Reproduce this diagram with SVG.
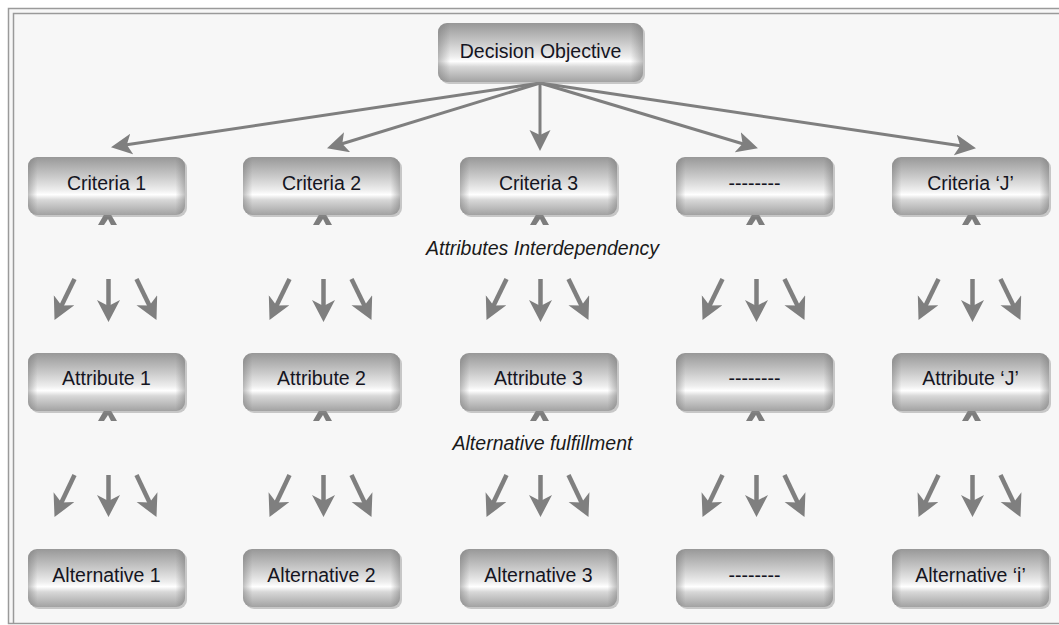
<svg xmlns="http://www.w3.org/2000/svg" width="1059" height="625" viewBox="0 0 1059 625">
<style>
  .lbl { font-family: "Liberation Sans", Arial, sans-serif; font-size: 19.5px; fill: #15151f; text-anchor: middle; }
  .ital { font-family: "Liberation Sans", Arial, sans-serif; font-size: 19.5px; font-style: italic; fill: #1a1a1a; text-anchor: middle; }
  .shadow { fill: #8c8c8c; opacity: 0.45; }
  .face { fill: url(#gv); }
  .edge { fill: url(#gh); }
  .conn { stroke: #7f7f7f; stroke-width: 3; fill: none; marker-end: url(#ahBig); }
  .sm { stroke: #7f7f7f; stroke-width: 4.5; fill: none; marker-end: url(#ahSm); }
  .tick { fill: #7d7d7d; }
  .frame { fill: none; stroke: #9a9a9a; stroke-width: 1.5; }
</style>
<defs>
  <linearGradient id="gv" x1="0" y1="0" x2="0" y2="1">
    <stop offset="0" stop-color="#989898"/>
    <stop offset="0.3" stop-color="#c4c4c4"/>
    <stop offset="0.56" stop-color="#ececec"/>
    <stop offset="0.65" stop-color="#ffffff"/>
    <stop offset="0.74" stop-color="#d8d8d8"/>
    <stop offset="1" stop-color="#a2a2a2"/>
  </linearGradient>
  <linearGradient id="gh" x1="0" y1="0" x2="1" y2="0">
    <stop offset="0" stop-color="#707070" stop-opacity="0.45"/>
    <stop offset="0.06" stop-color="#707070" stop-opacity="0"/>
    <stop offset="0.94" stop-color="#707070" stop-opacity="0"/>
    <stop offset="1" stop-color="#707070" stop-opacity="0.45"/>
  </linearGradient>
  <marker id="ahBig" markerUnits="userSpaceOnUse" markerWidth="22" markerHeight="22" refX="12" refY="10.5" orient="auto">
    <path d="M0,0 L21,10.5 L0,21 L5,10.5 z" fill="#7f7f7f"/>
  </marker>
  <marker id="ahSm" markerUnits="userSpaceOnUse" markerWidth="24" markerHeight="24" refX="12" refY="11.5" orient="auto">
    <path d="M0,0 L22,11.5 L0,23 L6,11.5 z" fill="#7f7f7f"/>
  </marker>
  <g id="arr1">
    <line class="sm" x1="-32" y1="279" x2="-47.6" y2="311"/>
    <line class="sm" x1="2" y1="279" x2="2" y2="312"/>
    <line class="sm" x1="30" y1="279" x2="45.6" y2="311"/>
  </g>
  <g id="arr2">
    <line class="sm" x1="-32" y1="475" x2="-47.7" y2="508"/>
    <line class="sm" x1="2" y1="475" x2="2" y2="507"/>
    <line class="sm" x1="30" y1="475" x2="45.7" y2="508"/>
  </g>
  <path id="tk" d="M-9,13 L-1.5,0 L2.5,0 L10,13 L4,13 L1,7 L-3,13 z"/>
</defs>

<!-- background and frame -->
<rect x="0" y="0" width="1059" height="625" fill="#ffffff"/>
<rect x="9" y="9" width="1050" height="614" fill="#f7f7f7"/>
<path class="frame" d="M1059,8.5 H8.5 V623.5 H1059"/>
<path class="frame" d="M1059,13.5 H13.5 V623.5"/>

<!-- connectors -->
<g id="connectors">
  <line class="conn" x1="540" y1="83" x2="119.9" y2="145.8"/>
  <line class="conn" x1="540" y1="83" x2="335.6" y2="145.7"/>
  <line class="conn" x1="540" y1="83" x2="540" y2="142"/>
  <line class="conn" x1="540" y1="83" x2="749.3" y2="145.7"/>
  <line class="conn" x1="540" y1="83" x2="967.1" y2="146.8"/>

  <use href="#arr1" transform="translate(106.5,0)"/>
  <use href="#arr1" transform="translate(321.5,0)"/>
  <use href="#arr1" transform="translate(538.5,0)"/>
  <use href="#arr1" transform="translate(754.5,0)"/>
  <use href="#arr1" transform="translate(970.5,0)"/>

  <use href="#arr2" transform="translate(106.5,0)"/>
  <use href="#arr2" transform="translate(321.5,0)"/>
  <use href="#arr2" transform="translate(538.5,0)"/>
  <use href="#arr2" transform="translate(754.5,0)"/>
  <use href="#arr2" transform="translate(970.5,0)"/>

  <g class="tick">
    <use href="#tk" transform="translate(107,212)"/>
    <use href="#tk" transform="translate(322,212)"/>
    <use href="#tk" transform="translate(539,212)"/>
    <use href="#tk" transform="translate(755,212)"/>
    <use href="#tk" transform="translate(971,212)"/>
    <use href="#tk" transform="translate(107,408)"/>
    <use href="#tk" transform="translate(322,408)"/>
    <use href="#tk" transform="translate(539,408)"/>
    <use href="#tk" transform="translate(755,408)"/>
    <use href="#tk" transform="translate(971,408)"/>
  </g>
</g>

<!-- labels -->
<text class="ital" x="542.5" y="255">Attributes Interdependency</text>
<text class="ital" x="542.5" y="450">Alternative fulfillment</text>

<!-- nodes -->
<g id="decision">
  <rect class="shadow" x="440" y="25" width="205" height="59" rx="9"/>
  <rect class="face" x="438" y="23" width="205" height="59" rx="9"/>
  <rect class="edge" x="438" y="23" width="205" height="59" rx="9"/>
  <text class="lbl" x="540.5" y="57.5">Decision Objective</text>
</g>

<g id="criteria1">
  <rect class="shadow" x="30" y="159" width="157" height="58" rx="9"/>
  <rect class="face" x="28" y="157" width="157" height="58" rx="9"/>
  <rect class="edge" x="28" y="157" width="157" height="58" rx="9"/>
  <text class="lbl" x="106.5" y="190">Criteria 1</text>
</g>
<g id="criteria2">
  <rect class="shadow" x="245" y="159" width="157" height="58" rx="9"/>
  <rect class="face" x="243" y="157" width="157" height="58" rx="9"/>
  <rect class="edge" x="243" y="157" width="157" height="58" rx="9"/>
  <text class="lbl" x="321.5" y="190">Criteria 2</text>
</g>
<g id="criteria3">
  <rect class="shadow" x="462" y="159" width="157" height="58" rx="9"/>
  <rect class="face" x="460" y="157" width="157" height="58" rx="9"/>
  <rect class="edge" x="460" y="157" width="157" height="58" rx="9"/>
  <text class="lbl" x="538.5" y="190">Criteria 3</text>
</g>
<g id="criteria4">
  <rect class="shadow" x="678" y="159" width="157" height="58" rx="9"/>
  <rect class="face" x="676" y="157" width="157" height="58" rx="9"/>
  <rect class="edge" x="676" y="157" width="157" height="58" rx="9"/>
  <text class="lbl" x="754.5" y="190">--------</text>
</g>
<g id="criteriaJ">
  <rect class="shadow" x="894" y="159" width="157" height="58" rx="9"/>
  <rect class="face" x="892" y="157" width="157" height="58" rx="9"/>
  <rect class="edge" x="892" y="157" width="157" height="58" rx="9"/>
  <text class="lbl" x="970.5" y="190">Criteria ‘J’</text>
</g>

<g id="attribute1">
  <rect class="shadow" x="30" y="355" width="157" height="58" rx="9"/>
  <rect class="face" x="28" y="353" width="157" height="58" rx="9"/>
  <rect class="edge" x="28" y="353" width="157" height="58" rx="9"/>
  <text class="lbl" x="106.5" y="385">Attribute 1</text>
</g>
<g id="attribute2">
  <rect class="shadow" x="245" y="355" width="157" height="58" rx="9"/>
  <rect class="face" x="243" y="353" width="157" height="58" rx="9"/>
  <rect class="edge" x="243" y="353" width="157" height="58" rx="9"/>
  <text class="lbl" x="321.5" y="385">Attribute 2</text>
</g>
<g id="attribute3">
  <rect class="shadow" x="462" y="355" width="157" height="58" rx="9"/>
  <rect class="face" x="460" y="353" width="157" height="58" rx="9"/>
  <rect class="edge" x="460" y="353" width="157" height="58" rx="9"/>
  <text class="lbl" x="538.5" y="385">Attribute 3</text>
</g>
<g id="attribute4">
  <rect class="shadow" x="678" y="355" width="157" height="58" rx="9"/>
  <rect class="face" x="676" y="353" width="157" height="58" rx="9"/>
  <rect class="edge" x="676" y="353" width="157" height="58" rx="9"/>
  <text class="lbl" x="754.5" y="385">--------</text>
</g>
<g id="attributeJ">
  <rect class="shadow" x="894" y="355" width="157" height="58" rx="9"/>
  <rect class="face" x="892" y="353" width="157" height="58" rx="9"/>
  <rect class="edge" x="892" y="353" width="157" height="58" rx="9"/>
  <text class="lbl" x="970.5" y="385">Attribute ‘J’</text>
</g>

<g id="alternative1">
  <rect class="shadow" x="30" y="551" width="157" height="58" rx="9"/>
  <rect class="face" x="28" y="549" width="157" height="58" rx="9"/>
  <rect class="edge" x="28" y="549" width="157" height="58" rx="9"/>
  <text class="lbl" x="106.5" y="582">Alternative 1</text>
</g>
<g id="alternative2">
  <rect class="shadow" x="245" y="551" width="157" height="58" rx="9"/>
  <rect class="face" x="243" y="549" width="157" height="58" rx="9"/>
  <rect class="edge" x="243" y="549" width="157" height="58" rx="9"/>
  <text class="lbl" x="321.5" y="582">Alternative 2</text>
</g>
<g id="alternative3">
  <rect class="shadow" x="462" y="551" width="157" height="58" rx="9"/>
  <rect class="face" x="460" y="549" width="157" height="58" rx="9"/>
  <rect class="edge" x="460" y="549" width="157" height="58" rx="9"/>
  <text class="lbl" x="538.5" y="582">Alternative 3</text>
</g>
<g id="alternative4">
  <rect class="shadow" x="678" y="551" width="157" height="58" rx="9"/>
  <rect class="face" x="676" y="549" width="157" height="58" rx="9"/>
  <rect class="edge" x="676" y="549" width="157" height="58" rx="9"/>
  <text class="lbl" x="754.5" y="582">--------</text>
</g>
<g id="alternativeI">
  <rect class="shadow" x="894" y="551" width="157" height="58" rx="9"/>
  <rect class="face" x="892" y="549" width="157" height="58" rx="9"/>
  <rect class="edge" x="892" y="549" width="157" height="58" rx="9"/>
  <text class="lbl" x="970.5" y="582">Alternative ‘i’</text>
</g>
</svg>
